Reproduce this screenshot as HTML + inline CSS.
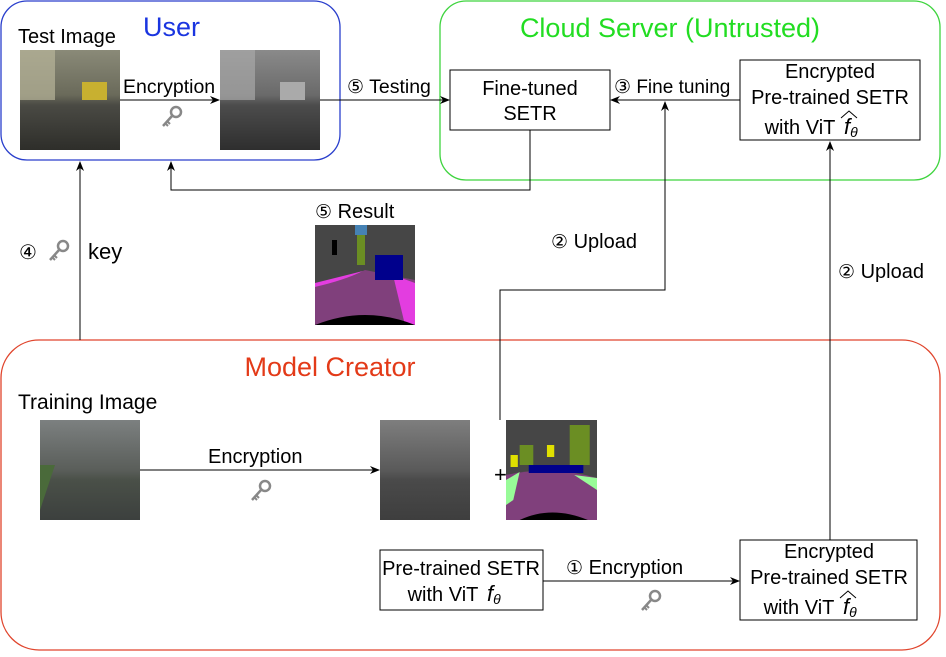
<!DOCTYPE html>
<html><head><meta charset="utf-8"><style>
html,body{margin:0;padding:0;background:#fff;}
svg text{font-family:"Liberation Sans",sans-serif;}
.c{font-family:"DejaVu Sans",sans-serif;font-size:19px;}
</style></head><body>
<svg width="946" height="652" viewBox="0 0 946 652" xmlns="http://www.w3.org/2000/svg">
<defs>
<marker id="ah" markerWidth="10" markerHeight="10" refX="9" refY="5" orient="auto" markerUnits="userSpaceOnUse">
<path d="M0,1 L10,5 L0,9 L3,5 Z" fill="#000"/></marker>
<g id="key"><circle cx="15" cy="6" r="5" fill="none" stroke="#888" stroke-width="2.5"/><line x1="11" y1="10" x2="2" y2="20" stroke="#888" stroke-width="2.5"/><line x1="4" y1="17" x2="7" y2="20" stroke="#888" stroke-width="2"/><line x1="6" y1="15" x2="9" y2="18" stroke="#888" stroke-width="2"/></g>
<linearGradient id="st" x1="0" y1="0" x2="0" y2="1"><stop offset="0" stop-color="#8a8a78"/><stop offset="0.45" stop-color="#6a6a5a"/><stop offset="0.55" stop-color="#4a4a44"/><stop offset="1" stop-color="#2e2e2a"/></linearGradient>
<linearGradient id="stg" x1="0" y1="0" x2="0" y2="1"><stop offset="0" stop-color="#8a8a8a"/><stop offset="0.45" stop-color="#6a6a6a"/><stop offset="0.55" stop-color="#4c4c4c"/><stop offset="1" stop-color="#2e2e2e"/></linearGradient>
<linearGradient id="tr" x1="0" y1="0" x2="0" y2="1"><stop offset="0" stop-color="#7c8080"/><stop offset="0.5" stop-color="#5a5e5a"/><stop offset="0.6" stop-color="#4a5048"/><stop offset="1" stop-color="#3c403e"/></linearGradient>
<linearGradient id="trg" x1="0" y1="0" x2="0" y2="1"><stop offset="0" stop-color="#7e7e7e"/><stop offset="0.5" stop-color="#5a5a5a"/><stop offset="0.6" stop-color="#4a4a4a"/><stop offset="1" stop-color="#3e3e3e"/></linearGradient>
<g id="seg">
<rect width="100" height="100" fill="#464646"/>
<path d="M0,62 Q30,55 50,45 L100,55 L100,100 L0,100Z" fill="#80407c"/>
<path d="M0,62 Q30,55 48,46 L0,58Z" fill="#e33de0"/>
<path d="M78,50 L100,58 L100,100 L90,100Z" fill="#e33de0"/>
<path d="M0,100 Q50,80 100,100Z" fill="#000"/>
<rect x="60" y="30" width="28" height="25" fill="#00008c"/>
<rect x="42" y="5" width="8" height="35" fill="#6b8e23"/>
<rect x="40" y="0" width="12" height="10" fill="#4682b4"/>
<rect x="17" y="15" width="5" height="15" fill="#000"/>
</g>
</defs>

<rect x="1" y="1" width="339" height="159" rx="26" fill="none" stroke="#2a3fcc" stroke-width="1.3"/>
<rect x="440" y="1" width="500" height="179" rx="26" fill="none" stroke="#3fd43f" stroke-width="1.3"/>
<rect x="1" y="340" width="939" height="310" rx="38" fill="none" stroke="#e0452d" stroke-width="1.3"/>

<text x="143" y="36" font-size="27" fill="#1a35e0">User</text>
<text x="670" y="37" font-size="27" fill="#22dd22" text-anchor="middle">Cloud Server (Untrusted)</text>
<text x="330" y="376" font-size="27" fill="#e33a18" text-anchor="middle">Model Creator</text>

<text x="18" y="43" font-size="20">Test Image</text>
<rect x="20" y="50" width="100" height="100" fill="url(#st)"/>
<rect x="20" y="50" width="35" height="50" fill="#b8b59a" opacity="0.7"/>
<rect x="82" y="82" width="25" height="18" fill="#c8b030"/>
<rect x="220" y="50" width="100" height="100" fill="url(#stg)"/>
<rect x="220" y="50" width="35" height="50" fill="#a8a8a8" opacity="0.7"/>
<rect x="280" y="82" width="25" height="18" fill="#aaa"/>
<line x1="120" y1="100" x2="219" y2="100" stroke="#000" marker-end="url(#ah)"/>
<text x="123" y="93" font-size="19.5">Encryption</text>
<use href="#key" x="161" y="106"/>

<line x1="320" y1="100" x2="449" y2="100" stroke="#000" marker-end="url(#ah)"/>
<text x="347" y="93" font-size="19.5"><tspan class="c">⑤</tspan> Testing</text>

<rect x="450" y="70" width="160" height="60" fill="#fff" stroke="#000"/>
<text x="530" y="95" font-size="20" text-anchor="middle">Fine-tuned</text>
<text x="530" y="120" font-size="20" text-anchor="middle">SETR</text>

<rect x="740" y="60" width="180" height="80" fill="#fff" stroke="#000"/>
<text x="830" y="78" font-size="20" text-anchor="middle">Encrypted</text>
<text x="830" y="104" font-size="20" text-anchor="middle">Pre-trained SETR</text>
<text x="800" y="134" font-size="20" text-anchor="middle">with ViT</text>
<text x="844" y="134" font-size="22" font-style="italic" font-family="Liberation Serif">f<tspan font-size="14" dy="3">θ</tspan></text>
<path d="M841,118 L849,111 L857,118" fill="none" stroke="#000"/>

<line x1="740" y1="100" x2="611" y2="100" stroke="#000" marker-end="url(#ah)"/>
<text x="614" y="93" font-size="19"><tspan class="c">③</tspan> Fine tuning</text>

<polyline points="530,130 530,190 171,190 171,162" fill="none" stroke="#000" marker-end="url(#ah)"/>
<line x1="80" y1="340" x2="80" y2="162" stroke="#000" marker-end="url(#ah)"/>
<text x="19" y="259" class="c" style="font-size:20px">④</text>
<use href="#key" x="48" y="240"/>
<text x="88" y="259" font-size="22">key</text>

<text x="315" y="218" font-size="20"><tspan class="c">⑤</tspan> Result</text>
<use href="#seg" x="315" y="225"/>

<polyline points="500,420 500,290 665,290 665,102" fill="none" stroke="#000" marker-end="url(#ah)"/>
<text x="551" y="248" font-size="20"><tspan class="c">②</tspan> Upload</text>
<line x1="830" y1="540" x2="830" y2="142" stroke="#000" marker-end="url(#ah)"/>
<text x="838" y="278" font-size="20"><tspan class="c">②</tspan> Upload</text>

<text x="18" y="409" font-size="21">Training Image</text>
<rect x="40" y="420" width="100" height="100" fill="url(#tr)"/>
<path d="M40,465 L55,465 L40,510Z" fill="#4a6a3a"/>
<rect x="380" y="420" width="90" height="100" fill="url(#trg)"/>
<line x1="140" y1="470" x2="379" y2="470" stroke="#000" marker-end="url(#ah)"/>
<text x="208" y="463" font-size="20">Encryption</text>
<use href="#key" x="250" y="480"/>
<text x="494" y="482" font-size="22">+</text>
<g transform="translate(506,420) scale(0.91,1)">
<rect width="100" height="100" fill="#464646"/>
<path d="M0,55 Q50,45 100,58 L100,100 L0,100Z" fill="#80407c"/>
<path d="M0,60 L15,52 L8,80 L0,85Z" fill="#98fb98"/>
<path d="M75,55 L100,58 L100,70Z" fill="#98fb98"/>
<path d="M15,100 Q50,85 90,100Z" fill="#000"/>
<rect x="70" y="5" width="22" height="40" fill="#6b8e23"/>
<rect x="15" y="25" width="15" height="20" fill="#6b8e23"/>
<rect x="5" y="35" width="8" height="12" fill="#e0e000"/>
<rect x="45" y="25" width="8" height="12" fill="#e0e000"/>
<rect x="25" y="45" width="60" height="8" fill="#00008c"/>
</g>

<rect x="380" y="550" width="163" height="60" fill="#fff" stroke="#000"/>
<text x="461" y="575" font-size="20" text-anchor="middle">Pre-trained SETR</text>
<text x="443" y="601" font-size="20" text-anchor="middle">with ViT</text>
<text x="487" y="601" font-size="22" font-style="italic" font-family="Liberation Serif">f<tspan font-size="14" dy="3">θ</tspan></text>

<line x1="543" y1="581" x2="739" y2="581" stroke="#000" marker-end="url(#ah)"/>
<text x="566" y="574" font-size="20"><tspan class="c">①</tspan> Encryption</text>
<use href="#key" x="640" y="590"/>

<rect x="740" y="540" width="177" height="80" fill="#fff" stroke="#000"/>
<text x="829" y="558" font-size="20" text-anchor="middle">Encrypted</text>
<text x="829" y="584" font-size="20" text-anchor="middle">Pre-trained SETR</text>
<text x="799" y="614" font-size="20" text-anchor="middle">with ViT</text>
<text x="843" y="614" font-size="22" font-style="italic" font-family="Liberation Serif">f<tspan font-size="14" dy="3">θ</tspan></text>
<path d="M840,598 L848,591 L856,598" fill="none" stroke="#000"/>
</svg>
</body></html>
